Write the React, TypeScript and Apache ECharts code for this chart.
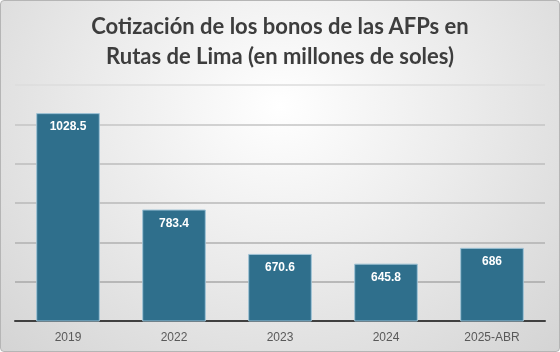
import React, { useEffect, useRef } from "react";
import * as echarts from "echarts";

const categories = ["2019", "2022", "2023", "2024", "2025-ABR"];
const values = [1028.5, 783.4, 670.6, 645.8, 686];
const titleLines = ["Cotización de los bonos de las AFPs en", "Rutas de Lima (en millones de soles)"];

export default function App() {
  const ref = useRef<HTMLDivElement>(null);
  useEffect(() => {
    if (!ref.current) return;
    const chart = echarts.init(ref.current, null, { renderer: "svg" });
    chart.setOption({
      animation: false,
      backgroundColor: "transparent",
      title: {
        text: titleLines.join("\n"),
        left: "center",
        top: 5,
        textStyle: {
          fontFamily: "Lato",
          fontWeight: "bold",
          fontSize: 22,
          lineHeight: 30,
          color: "#3d3d3d",
        },
      },
      grid: { left: 15, right: 15, top: 85, bottom: 31 },
      xAxis: {
        type: "category",
        data: categories,
        axisTick: { show: false },
        axisLine: { lineStyle: { color: "#404040", width: 2 } },
        axisLabel: {
          color: "#595959",
          fontSize: 12,
          fontFamily: "Liberation Sans",
          margin: 10,
        },
      },
      yAxis: {
        type: "value",
        min: 500,
        max: 1100,
        interval: 100,
        axisLabel: { show: false },
        axisLine: { show: false },
        axisTick: { show: false },
        splitLine: {
          lineStyle: {
            color: ["#a9a9a9", "#a9a9a9", "#b0b0b0", "#b8b8b8", "#bdbdbd", "#c4c4c4", "#dcdcdc"],
            width: 1.5,
          },
        },
      },
      series: [
        {
          type: "bar",
          data: values,
          barWidth: "60%",
          itemStyle: {
            color: "#2f6f8c",
            borderColor: "#9fc3d6",
            borderWidth: 1,
          },
          label: {
            show: true,
            position: "insideTop",
            distance: 7,
            color: "#ffffff",
            fontWeight: "bold",
            fontSize: 12,
            fontFamily: "Liberation Sans",
          },
        },
      ],
    });
    return () => chart.dispose();
  }, []);
  return (
    <div
      style={{
        position: "fixed",
        left: 0,
        top: 0,
        width: 560,
        height: 352,
        boxSizing: "border-box",
        border: "1px solid #b5b5b5",
        borderRadius: 4,
        background: "radial-gradient(ellipse at 50% 30%, #ffffff 0%, #ececec 45%, #d4d4d4 100%)",
      }}
    >
      <div ref={ref} style={{ position: "absolute", left: -1, top: -1, width: 560, height: 352 }} />
    </div>
  );
}
